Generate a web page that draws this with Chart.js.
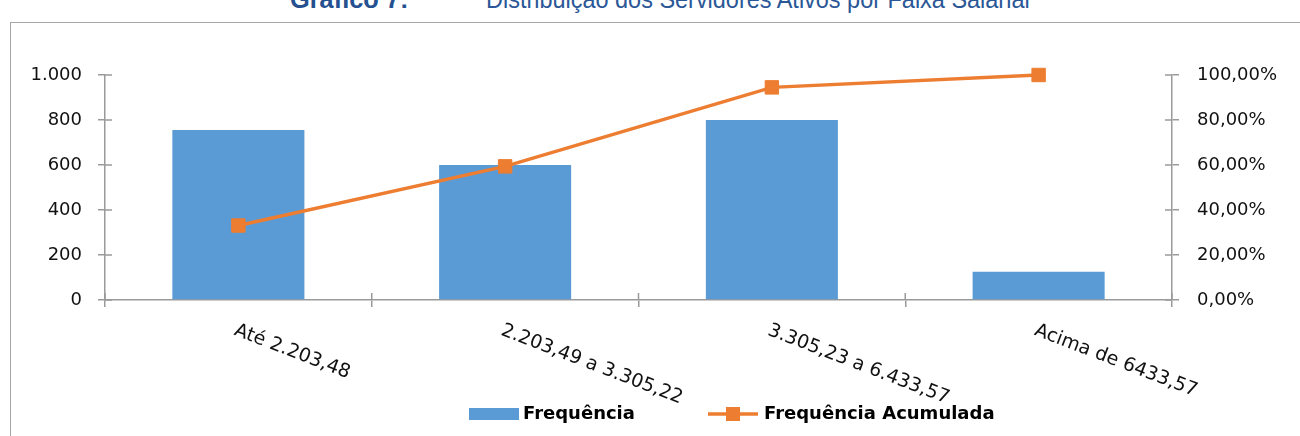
<!DOCTYPE html>
<html>
<head>
<meta charset="utf-8">
<script src="https://cdn.jsdelivr.net/npm/chart.js@4.4.1/dist/chart.umd.min.js"></script>
<style>
body{margin:0;background:#fff;}
#wrap{position:relative;width:1300px;height:436px;overflow:hidden;background:#fff;}
#frame{position:absolute;left:10px;top:22px;width:1400px;height:500px;border-left:1.5px solid #a6a6a6;border-top:1.5px solid #a6a6a6;}
.ttl{position:absolute;top:-14px;font-family:"Liberation Sans",Arial,sans-serif;font-size:26px;line-height:26px;color:#2B5797;white-space:nowrap;transform-origin:left top;}
#t1{left:290px;font-weight:bold;color:#24508F;}
#t2{left:486px;}
canvas{position:absolute;left:0;top:0;}
</style>
</head>
<body>
<div id="wrap">
    <div id="frame"></div>
    <span class="ttl" id="t1">Gráfico 7:</span>
    <span class="ttl" id="t2">Distribuição dos Servidores Ativos por Faixa Salarial</span>
    <canvas id="grafico" width="1300" height="436"></canvas>
</div>
<script>
/* ==========================================
   DADOS
========================================== */

const categorias = [
    "Até 2.203,48",
    "2.203,49 a 3.305,22",
    "3.305,23 a 6.433,57",
    "Acima de 6433,57"
];

const frequencia = [756, 600, 800, 126];

const frequenciaAcumulada = [33.1, 59.4, 94.5, 100];

const nomesSeries = ["Frequência", "Frequência Acumulada"];


/* ==========================================
   ESTILO
========================================== */

const AZUL = "#5B9BD5";
const LARANJA = "#ED7D31";
const EIXO = "#9a9a9a";
const FONTE = "'DejaVu Sans', sans-serif";


/* ==========================================
   TITULO (ajuste de largura)
========================================== */

function ajustaTitulo(id, largura){
    const el = document.getElementById(id);
    el.style.transform = "scaleX(" + (largura / el.offsetWidth) + ")";
}

ajustaTitulo("t1", 118);
ajustaTitulo("t2", 544);


/* ==========================================
   FORMATOS
========================================== */

function milhar(v){
    return String(v).replace(/\B(?=(\d{3})+(?!\d))/g, ".");
}

function percentual(v){
    return v.toFixed(2).replace(".", ",") + "%";
}


/* ==========================================
   PLUGINS
========================================== */

// marcas dos eixos cruzando a linha (lado de dentro)
const marcasInternas = {
    id: "marcasInternas",
    afterDraw(chart){
        const {ctx, chartArea, scales} = chart;
        ctx.save();
        ctx.strokeStyle = EIXO;
        ctx.lineWidth = 1.5;
        ctx.beginPath();
        scales.y.ticks.forEach((t, i)=>{
            const py = scales.y.getPixelForTick(i);
            ctx.moveTo(chartArea.left, py);
            ctx.lineTo(chartArea.left + 7, py);
        });
        scales.y1.ticks.forEach((t, i)=>{
            const py = scales.y1.getPixelForTick(i);
            ctx.moveTo(chartArea.right - 7, py);
            ctx.lineTo(chartArea.right, py);
        });
        const n = categorias.length;
        const passo = (chartArea.right - chartArea.left) / n;
        for(let i = 0; i <= n; i++){
            const px = chartArea.left + i * passo;
            ctx.moveTo(px, chartArea.bottom - 7);
            ctx.lineTo(px, chartArea.bottom);
        }
        ctx.stroke();
        ctx.restore();
    }
};

// rótulos do eixo x inclinados para baixo
const rotulosX = {
    id: "rotulosX",
    afterDraw(chart){
        const {ctx, chartArea, scales} = chart;
        ctx.save();
        ctx.fillStyle = "#111";
        ctx.font = "19px " + FONTE;
        ctx.textAlign = "left";
        ctx.textBaseline = "top";
        categorias.forEach((nome, i)=>{
            const px = scales.x.getPixelForValue(i);
            ctx.save();
            ctx.translate(px, chartArea.bottom + 21);
            ctx.rotate(21 * Math.PI / 180);
            ctx.fillText(nome, 0, 0);
            ctx.restore();
        });
        ctx.restore();
    }
};

// legenda na parte de baixo
const legendaBaixo = {
    id: "legendaBaixo",
    afterDraw(chart){
        const {ctx} = chart;
        const y = 414;
        ctx.save();
        ctx.font = "bold 18px " + FONTE;
        ctx.textBaseline = "middle";

        // barra
        ctx.fillStyle = chart.data.datasets[1].backgroundColor;
        ctx.fillRect(469, y - 6, 50, 12);
        ctx.fillStyle = "#000";
        ctx.fillText(chart.data.datasets[1].label, 523, y);

        // linha
        ctx.strokeStyle = chart.data.datasets[0].borderColor;
        ctx.lineWidth = 3.5;
        ctx.beginPath();
        ctx.moveTo(708, y);
        ctx.lineTo(758, y);
        ctx.stroke();
        ctx.fillStyle = chart.data.datasets[0].borderColor;
        ctx.fillRect(726, y - 7, 14, 14);
        ctx.fillStyle = "#000";
        ctx.fillText(chart.data.datasets[0].label, 764, y);
        ctx.restore();
    }
};


/* ==========================================
   GRAFICO
========================================== */

const ctx = document.getElementById("grafico").getContext("2d");

new Chart(ctx, {
    data: {
        labels: categorias,
        datasets: [
            {
                type: "line",
                label: nomesSeries[1],
                data: frequenciaAcumulada,
                yAxisID: "y1",
                borderColor: LARANJA,
                backgroundColor: LARANJA,
                borderWidth: 3.5,
                pointStyle: "rect",
                pointRadius: 9.5,
                pointBorderWidth: 1,
                pointBackgroundColor: LARANJA,
                pointBorderColor: LARANJA,
                tension: 0,
                clip: false,
                order: 0
            },
            {
                type: "bar",
                label: nomesSeries[0],
                data: frequencia,
                yAxisID: "y",
                backgroundColor: AZUL,
                barPercentage: 0.495,
                categoryPercentage: 1,
                order: 1
            }
        ]
    },
    options: {
        responsive: false,
        animation: false,
        layout: {
            padding: {top: 75, left: 0, right: 0, bottom: 0}
        },
        plugins: {
            legend: {display: false},
            tooltip: {enabled: false}
        },
        scales: {
            x: {
                offset: true,
                ticks: {display: false},
                border: {color: EIXO, width: 1.5},
                grid: {
                    offset: true,
                    drawOnChartArea: false,
                    drawTicks: true,
                    tickLength: 7,
                    color: EIXO,
                    lineWidth: 1.5
                },
                afterFit(s){ s.height = 136; }
            },
            y: {
                position: "left",
                min: 0,
                max: 1000,
                ticks: {
                    stepSize: 200,
                    padding: 16,
                    color: "#111",
                    font: {family: FONTE, size: 18},
                    callback: v => milhar(v)
                },
                border: {color: EIXO, width: 1.5},
                grid: {
                    drawOnChartArea: false,
                    drawTicks: true,
                    tickLength: 7,
                    color: EIXO,
                    lineWidth: 1.5
                },
                afterFit(s){ s.width = 105; }
            },
            y1: {
                position: "right",
                min: 0,
                max: 100,
                ticks: {
                    stepSize: 20,
                    padding: 18,
                    color: "#111",
                    font: {family: FONTE, size: 18},
                    callback: v => percentual(v)
                },
                border: {color: EIXO, width: 1.5},
                grid: {
                    drawOnChartArea: false,
                    drawTicks: true,
                    tickLength: 7,
                    color: EIXO,
                    lineWidth: 1.5
                },
                afterFit(s){ s.width = 128; }
            }
        }
    },
    plugins: [marcasInternas, rotulosX, legendaBaixo]
});
</script>
</body>
</html>
